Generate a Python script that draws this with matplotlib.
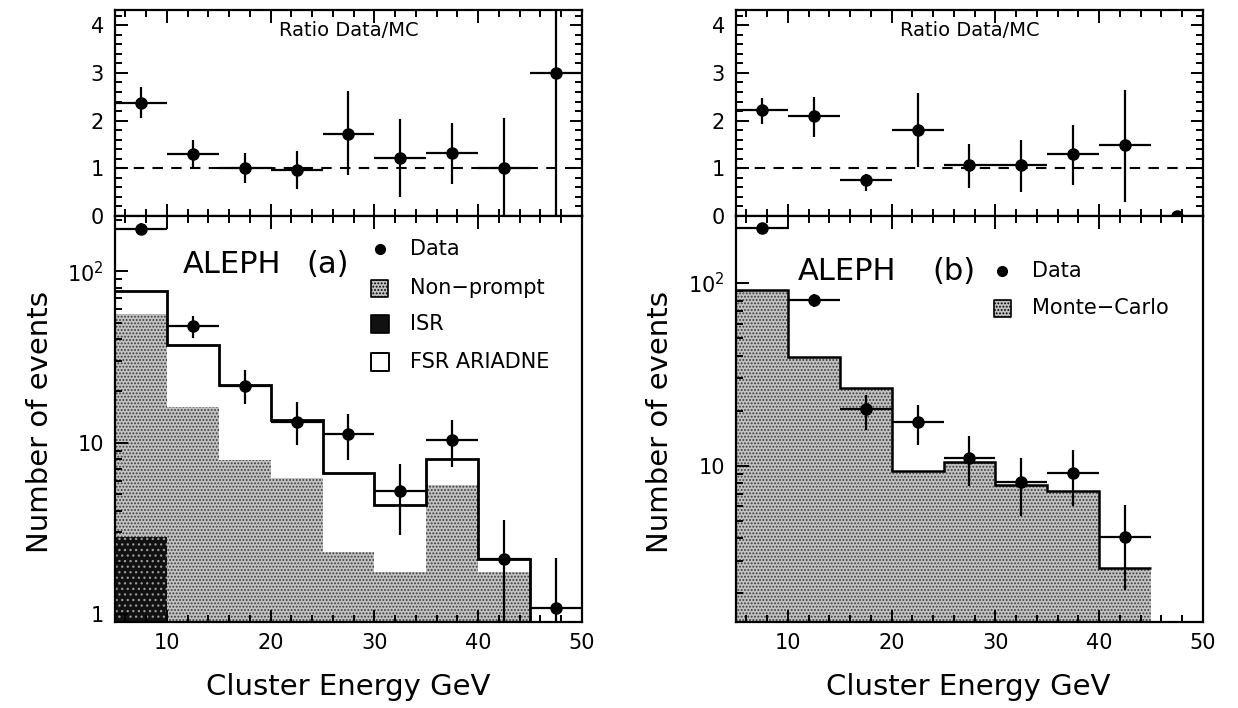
import numpy as np
import matplotlib.pyplot as plt
from matplotlib.ticker import MultipleLocator, NullFormatter

# Bin edges and centres (GeV)
edges = np.arange(5, 55, 5)
centers = edges[:-1] + 2.5

# ---- (a) photon candidates: data vs Non-prompt / ISR / FSR ARIADNE ----
data_a = [176, 48, 21.5, 13.2, 11.3, 5.2, 10.4, 2.1, 1.08]
data_a_lo = [163, 41, 16.9, 9.7, 7.9, 2.9, 7.2, 0.5, 0.5]
data_a_hi = [190, 55, 26.4, 17.2, 14.8, 7.5, 13.6, 3.55, 2.12]
total_a = [76.7, 37, 21.6, 13.5, 6.65, 4.34, 8.03, 2.09, 0.36]
nonprompt_a = [56.6, 16.1, 7.96, 6.2, 2.3, 1.75, 5.68, 1.75]
isr_a = [2.8]

ratio_a = [2.38, 1.30, 1.00, 0.97, 1.72, 1.21, 1.33, 1.01, 3.0]
ratio_a_lo = [2.06, 1.00, 0.69, 0.57, 0.85, 0.39, 0.67, 0.0, 0.0]
ratio_a_hi = [2.70, 1.60, 1.33, 1.37, 2.62, 2.04, 1.95, 2.06, 4.5]

# ---- (b) data vs Monte-Carlo ----
data_b = [200, 81, 20.3, 17.3, 11.0, 8.1, 9.1, 4.04]
data_b_lo = [186, 73.6, 15.6, 13.0, 7.7, 5.3, 6.0, 2.08]
data_b_hi = [214, 87, 24.5, 21.4, 14.5, 11.0, 12.1, 6.05]
mc_b = [91.8, 39.1, 26.5, 9.39, 10.4, 7.8, 7.23, 2.76]

ratio_b = [2.23, 2.09, 0.76, 1.81, 1.07, 1.06, 1.29, 1.48]
ratio_b_lo = [1.93, 1.66, 0.53, 1.03, 0.59, 0.50, 0.64, 0.30]
ratio_b_hi = [2.48, 2.50, 0.88, 2.57, 1.52, 1.59, 1.91, 2.64]
ratio_b_empty = 0.0  # last bin, no data events

plt.rcParams["font.family"] = ["DejaVu Sans"]
plt.rcParams["hatch.linewidth"] = 0.9
plt.rcParams["axes.linewidth"] = 1.6

GRAY = "#c2c2c2"
DOTS = "#3a3a3a"

fig = plt.figure(figsize=(12.38, 7.08), dpi=100)

ax_ra = fig.add_axes([0.0929, 0.6949, 0.3772, 0.2910])
ax_a = fig.add_axes([0.0929, 0.1215, 0.3772, 0.5734])
ax_rb = fig.add_axes([0.5945, 0.6949, 0.3772, 0.2910])
ax_b = fig.add_axes([0.5945, 0.1215, 0.3772, 0.5734])


def style_ratio(ax):
    ax.set_xlim(5, 50)
    ax.set_ylim(0, 4.32)
    ax.xaxis.set_major_locator(MultipleLocator(10))
    ax.xaxis.set_minor_locator(MultipleLocator(2))
    ax.yaxis.set_major_locator(MultipleLocator(1))
    ax.yaxis.set_minor_locator(MultipleLocator(0.2))
    ax.xaxis.set_major_formatter(NullFormatter())
    ax.tick_params(which="both", direction="in", top=True, right=True, width=1.4)
    ax.tick_params(which="major", length=9, labelsize=15, pad=8)
    ax.tick_params(which="minor", length=5)
    ax.axhline(1.0, color="k", ls=(0, (5, 4)), lw=1.5)
    ax.text(0.5, 0.9, "Ratio Data/MC", transform=ax.transAxes,
            ha="center", va="center", fontsize=14)


def style_main(ax, ylo, yhi, ticks, labels):
    ax.set_xlim(5, 50)
    ax.set_yscale("log")
    ax.set_ylim(ylo, yhi)
    ax.xaxis.set_major_locator(MultipleLocator(10))
    ax.xaxis.set_minor_locator(MultipleLocator(2))
    ax.set_yticks(ticks)
    ax.set_yticklabels(labels)
    ax.yaxis.set_minor_formatter(NullFormatter())
    ax.tick_params(which="both", direction="in", top=True, right=False, width=1.4)
    ax.tick_params(which="major", length=9, labelsize=15, pad=8)
    ax.tick_params(which="minor", length=5)


def points(ax, x, y, lo, hi, **kw):
    y = np.array(y)
    yerr = [y - np.array(lo), np.array(hi) - y]
    ax.errorbar(x, y, xerr=2.5, yerr=yerr, fmt="o", color="k", ms=8,
                elinewidth=1.6, capsize=0, **kw)


# ---------------- panel (a) ----------------
style_ratio(ax_ra)
points(ax_ra, centers, ratio_a, ratio_a_lo, ratio_a_hi)

style_main(ax_a, 0.9, 210, [1, 10, 100], ["1", "10", r"$10^2$"])
ax_a.stairs(nonprompt_a, edges[:9], fill=True, baseline=0.1,
            facecolor=GRAY, edgecolor=DOTS, hatch=".....", lw=0)
ax_a.stairs(isr_a, edges[:2], fill=True, baseline=0.1,
            facecolor="#111111", edgecolor="#9a9a9a", hatch="...", lw=0)
ax_a.stairs(total_a, edges, color="k", lw=2.0, baseline=None)
points(ax_a, centers, data_a, data_a_lo, data_a_hi)

ax_a.text(0.146, 0.88, "ALEPH", transform=ax_a.transAxes, fontsize=22,
          ha="left", va="center")
ax_a.text(0.41, 0.88, "(a)", transform=ax_a.transAxes, fontsize=22,
          ha="left", va="center")

# legend entries
leg_x, txt_x = 0.567, 0.632
ax_a.plot([leg_x], [0.919], "o", color="k", ms=7, transform=ax_a.transAxes)
ax_a.text(txt_x, 0.919, "Data", transform=ax_a.transAxes, fontsize=15, va="center")
ax_a.scatter([leg_x], [0.822], marker="s", s=150, facecolor=GRAY, edgecolor="k",
             hatch=".....", lw=1.2, transform=ax_a.transAxes)
ax_a.text(txt_x, 0.822, "Non\u2212prompt", transform=ax_a.transAxes, fontsize=15, va="center")
ax_a.scatter([leg_x], [0.733], marker="s", s=150, facecolor="#111111", edgecolor="k",
             lw=1.2, transform=ax_a.transAxes)
ax_a.text(txt_x, 0.733, "ISR", transform=ax_a.transAxes, fontsize=15, va="center")
ax_a.scatter([leg_x], [0.640], marker="s", s=150, facecolor="white", edgecolor="k",
             lw=1.4, transform=ax_a.transAxes)
ax_a.text(txt_x, 0.640, "FSR ARIADNE", transform=ax_a.transAxes, fontsize=15, va="center")

# ---------------- panel (b) ----------------
style_ratio(ax_rb)
points(ax_rb, centers[:8], ratio_b, ratio_b_lo, ratio_b_hi)
ax_rb.plot([centers[8]], [ratio_b_empty], "o", color="k", ms=8, clip_on=False, zorder=5)

style_main(ax_b, 1.39, 233, [10, 100], ["10", r"$10^2$"])
ax_b.stairs(mc_b, edges[:9], fill=True, baseline=0.1,
            facecolor=GRAY, edgecolor=DOTS, hatch=".....", lw=0)
ax_b.stairs(mc_b, edges[:9], color="k", lw=1.8, baseline=None)
points(ax_b, centers[:8], data_b, data_b_lo, data_b_hi)

ax_b.text(0.133, 0.864, "ALEPH", transform=ax_b.transAxes, fontsize=22,
          ha="left", va="center")
ax_b.text(0.42, 0.864, "(b)", transform=ax_b.transAxes, fontsize=22,
          ha="left", va="center")
ax_b.plot([0.57], [0.864], "o", color="k", ms=7, transform=ax_b.transAxes)
ax_b.text(0.634, 0.864, "Data", transform=ax_b.transAxes, fontsize=15, va="center")
ax_b.scatter([0.57], [0.773], marker="s", s=150, facecolor=GRAY, edgecolor="k",
             hatch=".....", lw=1.2, transform=ax_b.transAxes)
ax_b.text(0.634, 0.773, "Monte\u2212Carlo", transform=ax_b.transAxes, fontsize=15, va="center")

# axis titles
for xl, xc in [(0.032, 0.281), (0.533, 0.782)]:
    fig.text(xl, 0.404, "Number of events", rotation=90, fontsize=21,
             ha="center", va="center")
    fig.text(xc, 0.030, "Cluster Energy GeV", fontsize=21, ha="center", va="center")

fig.savefig("out.png", dpi=100)
